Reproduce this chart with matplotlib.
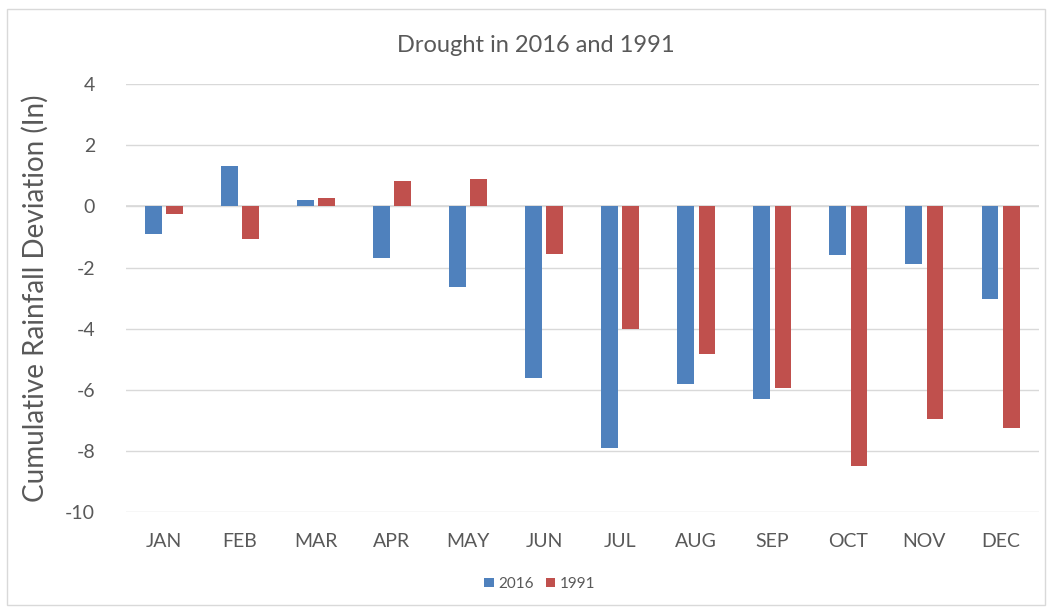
import matplotlib
matplotlib.use("Agg")
import matplotlib.pyplot as plt
import numpy as np

months = ["JAN", "FEB", "MAR", "APR", "MAY", "JUN",
          "JUL", "AUG", "SEP", "OCT", "NOV", "DEC"]
dev_2016 = [-0.90, 1.33, 0.21, -1.70, -2.65, -5.60,
            -7.89, -5.80, -6.29, -1.60, -1.90, -3.03]
dev_1991 = [-0.25, -1.06, 0.27, 0.82, 0.88, -1.57,
            -4.01, -4.82, -5.93, -8.48, -6.95, -7.25]
y_ticks = [4, 2, 0, -2, -4, -6, -8, -10]

BLUE = "#4F81BD"
RED = "#C0504D"
TEXT = "#595959"
GRID = "#D9D9D9"

plt.rcParams["font.family"] = ["Lato", "DejaVu Sans"]
plt.rcParams["axes.unicode_minus"] = False

fig = plt.figure(figsize=(10.48, 6.09), dpi=100)
fig.patch.set_facecolor("white")

# outer chart frame
frame = plt.Rectangle((0.007, 0.007), 0.99, 0.978, transform=fig.transFigure,
                      fill=False, edgecolor="#D9D9D9", linewidth=1.0)
fig.patches.append(frame)

ax = fig.add_axes([0.120, 0.159, 0.871, 0.703])

x = np.arange(len(months))
w = 0.22
off = 0.14
ax.bar(x - off, dev_2016, width=w, color=BLUE, label="2016", zorder=3)
ax.bar(x + off, dev_1991, width=w, color=RED, label="1991", zorder=3)

ax.set_xlim(-0.5, len(months) - 0.5)
ax.set_ylim(-10, 4)
ax.set_yticks(y_ticks)
ax.set_xticks(x)
ax.set_xticklabels(months)
ax.grid(axis="y", color=GRID, linewidth=1.0, zorder=0)
ax.axhline(0, color=GRID, linewidth=1.2, zorder=1)

for s in ax.spines.values():
    s.set_visible(False)
ax.tick_params(length=0, colors=TEXT, labelsize=14)
ax.tick_params(axis="x", pad=15)
ax.tick_params(axis="y", pad=22)

ax.set_ylabel("Cumulative Rainfall Deviation (In)", fontsize=20, color=TEXT, labelpad=12)
fig.text(0.511, 0.925, "Drought in 2016 and 1991", ha="center", va="center",
         fontsize=17, color=TEXT)

leg = fig.legend(loc="center", bbox_to_anchor=(0.515, 0.041), ncol=2, frameon=False,
                 fontsize=11, handlelength=0.6, handleheight=0.6, handletextpad=0.3,
                 columnspacing=0.8)
for t in leg.get_texts():
    t.set_color(TEXT)

fig.savefig("out.png", dpi=100, facecolor="white")
